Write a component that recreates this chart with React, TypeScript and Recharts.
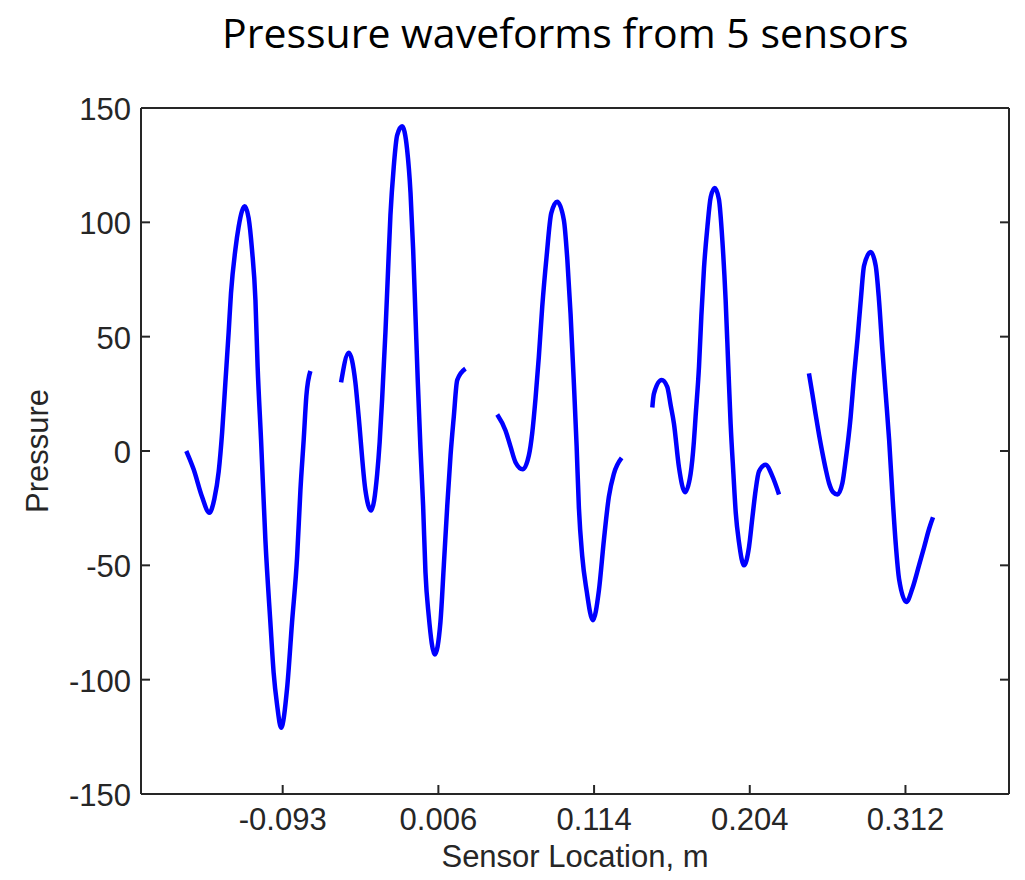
import { Line, LineChart, XAxis, YAxis } from "recharts";

// x is a sample axis; tick positions carry the sensor location labels
const xTicks = [100, 200, 300, 400, 500];
const xTickLabels = ["-0.093", "0.006", "0.114", "0.204", "0.312"];
const yTicks = [-150, -100, -50, 0, 50, 100, 150];

const s1T = [38.1, 42.8, 48.2, 52.9, 56.1, 58.9, 61.1, 63.2, 65.3, 66.8, 69.6, 71.7, 73.9, 75.6, 78.1, 80.3, 82.5, 83.9, 86.1, 88.9, 92.1, 94.2, 96.4, 99, 102.8, 106, 109.3, 111.4, 113.5, 115.2, 117.8];
const s1P = [0, -8, -20, -27, -21, -9, 8, 30, 52, 69, 88, 98, 105, 107, 102, 88, 66, 37, 5, -39, -75, -97, -111, -121, -104, -75, -46, -17, 5, 24, 35];

const s2T = [137.5, 142.4, 146.7, 148.8, 153.1, 156.8, 160.7, 162.3, 163.9, 166, 167.5, 169.2, 171.3, 173.5, 176.7, 179.9, 182.1, 183.8, 185.3, 186.8, 188.5, 190.2, 191.7, 193.8, 197.7, 201.3, 203.5, 205.7, 207.8, 209.9, 212.1, 217.4];
const s2P = [30, 43, 30, 15, -17, -26, -10, 4, 23, 52, 76, 103, 124, 138, 142, 132, 113, 88, 59, 30, 1, -24, -53, -72, -89, -75, -50, -24, -2, 15, 31, 36];

const s3T = [237.8, 243.1, 246.3, 249.6, 254.2, 258.1, 260.3, 262.4, 264.5, 266.7, 269.5, 272.5, 276.3, 280.6, 282.8, 284.9, 287, 288.8, 290.2, 292.4, 295.2, 299.2, 303.1, 306.3, 309.5, 312.7, 317.7];
const s3P = [16, 9, 2, -5, -8, -2, 8, 23, 41, 63, 85, 104, 109, 101, 84, 60, 30, 2, -24, -46, -61, -74, -61, -39, -20, -10, -3];

const s4T = [337.4, 338.4, 343.4, 347, 349.2, 351.3, 354.5, 358.4, 362, 364.1, 365.2, 367.4, 368.9, 370.6, 372.8, 374.9, 377.5, 380.2, 382.4, 384.5, 386.2, 387.7, 389.5, 391, 393.1, 396.3, 399.5, 401.7, 403.8, 405.9, 410.2, 414.5, 418.8];
const s4P = [19, 25, 31, 28, 20, 12, -7, -18, -10, 4, 15, 37, 59, 80, 98, 111, 115, 110, 92, 66, 37, 12, -10, -27, -40, -50, -42, -29, -17, -9, -6, -11, -19];

const s5T = [438, 440.2, 442.3, 444.5, 446.7, 448.8, 450.9, 453.5, 456.3, 459.5, 461.6, 464.8, 467, 469.2, 471.3, 473.4, 477.7, 480.9, 483, 485.2, 487.3, 489.5, 491.7, 493.8, 495.9, 500.6, 504.5, 508.7, 512, 515.2, 517.7];
const s5P = [34, 25, 16, 7, -1, -8, -14, -18, -19, -14, -4, 15, 33, 49, 66, 81, 87, 81, 66, 44, 25, 5, -20, -41, -56, -66, -60, -50, -42, -34, -29];

const toRows = (t: number[], p: number[]) => t.map((v, i) => ({ t: v, p: p[i] }));
const sensors = [
  toRows(s1T, s1P),
  toRows(s2T, s2P),
  toRows(s3T, s3P),
  toRows(s4T, s4P),
  toRows(s5T, s5P),
];

const W = 1025;
const H = 880;
const M = { top: 107, right: 15, bottom: 0, left: 0 };
const Y_AXIS_W = 141;
const X_AXIS_H = 86;
const PLOT_LEFT = M.left + Y_AXIS_W;
const PLOT_TOP = M.top + 1;
const PLOT_RIGHT = W - M.right - 1;
const PLOT_BOTTOM = H - M.bottom - X_AXIS_H;
const TICK = 9;

const font = "'Liberation Sans', Arial, sans-serif";
const axisColor = "#262626";
const fontSize = 31;

// MATLAB-style ticks: short marks pointing into the plot box
const BottomTick = ({ x, payload }: any) => (
  <g>
    <line x1={x} x2={x} y1={PLOT_BOTTOM} y2={PLOT_BOTTOM - TICK} stroke={axisColor} strokeWidth={2} />
    <text x={x} y={PLOT_BOTTOM + 36} textAnchor="middle" fontSize={fontSize} fontFamily={font} fill={axisColor}>
      {xTickLabels[xTicks.indexOf(payload.value)] ?? ""}
    </text>
  </g>
);

const TopTick = ({ x }: any) => (
  <line x1={x} x2={x} y1={PLOT_TOP} y2={PLOT_TOP + TICK} stroke={axisColor} strokeWidth={2} />
);

const LeftTick = ({ y, payload }: any) => (
  <g>
    <line x1={PLOT_LEFT} x2={PLOT_LEFT + TICK} y1={y} y2={y} stroke={axisColor} strokeWidth={2} />
    <text x={131} y={y + 12} textAnchor="end" fontSize={fontSize} fontFamily={font} fill={axisColor}>
      {payload.value}
    </text>
  </g>
);

const RightTick = ({ y }: any) => (
  <line x1={PLOT_RIGHT} x2={PLOT_RIGHT - TICK} y1={y} y2={y} stroke={axisColor} strokeWidth={2} />
);

export default function App() {
  return (
    <div style={{ position: "absolute", left: 0, top: 0, width: W, height: H, background: "#fff" }}>
      <div
        style={{
          position: "absolute",
          left: 222,
          top: 12,
          fontFamily: "'Open Sans', sans-serif",
          fontSize: 41,
          lineHeight: "41px",
          whiteSpace: "nowrap",
          color: "#000",
        }}
      >
        Pressure waveforms from 5 sensors
      </div>
      <LineChart width={W} height={H} margin={M} style={{ position: "absolute", left: 0, top: 0 }}>
        <XAxis
          dataKey="t"
          type="number"
          domain={[9, 566.5]}
          ticks={xTicks}
          allowDataOverflow
          height={X_AXIS_H}
          tickLine={false}
          stroke={axisColor}
          strokeWidth={2}
          tick={<BottomTick />}
          label={{
            value: "Sensor Location, m",
            position: "insideBottom",
            offset: 13,
            style: { fontSize, fontFamily: font, fill: axisColor },
          }}
        />
        <XAxis
          xAxisId="top"
          orientation="top"
          type="number"
          domain={[9, 566.5]}
          ticks={xTicks}
          allowDataOverflow
          height={1}
          tickLine={false}
          tick={<TopTick />}
          stroke={axisColor}
          strokeWidth={2}
        />
        <YAxis
          type="number"
          domain={[-150, 150]}
          ticks={yTicks}
          allowDataOverflow
          width={Y_AXIS_W}
          tickLine={false}
          stroke={axisColor}
          strokeWidth={2}
          tick={<LeftTick />}
          label={{
            value: "Pressure",
            angle: -90,
            position: "insideLeft",
            offset: 37,
            style: { fontSize, fontFamily: font, fill: axisColor, textAnchor: "middle" },
          }}
        />
        <YAxis
          yAxisId="right"
          orientation="right"
          type="number"
          domain={[-150, 150]}
          ticks={yTicks}
          allowDataOverflow
          width={1}
          tickLine={false}
          tick={<RightTick />}
          stroke={axisColor}
          strokeWidth={2}
        />
        {sensors.map((rows, i) => (
          <Line
            key={i}
            data={rows}
            dataKey="p"
            type="monotone"
            stroke="#0000ff"
            strokeWidth={4.5}
            dot={false}
            activeDot={false}
            isAnimationActive={false}
          />
        ))}
      </LineChart>
    </div>
  );
}
